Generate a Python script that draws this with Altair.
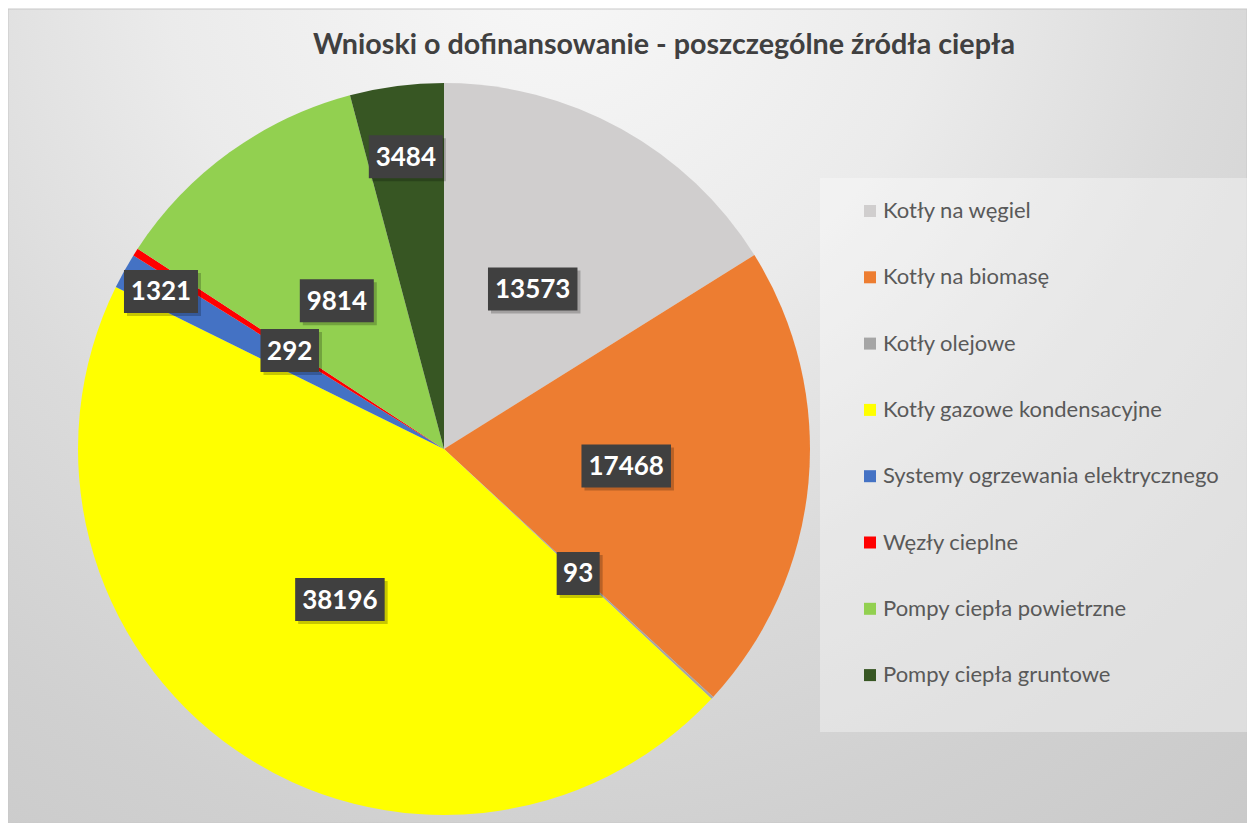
import altair as alt
import pandas as pd
import numpy as np

# ---- data ----
categories = [
    "Kotły na węgiel",
    "Kotły na biomasę",
    "Kotły olejowe",
    "Kotły gazowe kondensacyjne",
    "Systemy ogrzewania elektrycznego",
    "Węzły cieplne",
    "Pompy ciepła powietrzne",
    "Pompy ciepła gruntowe",
]
values = [13573, 17468, 93, 38196, 1321, 292, 9814, 3484]
colors = ["#d0cece", "#ed7d31", "#a5a5a5", "#ffff00", "#4472c4", "#ff0000", "#92d050", "#375623"]
title_text = "Wnioski o dofinansowanie - poszczególne źródła ciepła"

# ---- layout (styles / positions, not data) ----
W, H = 1239, 815
CX, CY, R = 436, 441, 366
label_radius = {1321: 0.885, 3484: 0.805}  # Excel "best fit" moved these
DIGIT_W, BOX_PAD, BOX_H = 15.5, 12, 43

df = pd.DataFrame({"category": categories, "value": values, "idx": range(len(values))})
total = df["value"].sum()
cum = df["value"].cumsum()
mid = (cum - df["value"] / 2) / total * 2 * np.pi
rf = df["value"].map(lambda v: label_radius.get(v, 0.5))
df["lx"] = CX + R * rf * np.sin(mid)
df["ly"] = CY - R * rf * np.cos(mid)
half_w = (df["value"].astype(str).str.len() * DIGIT_W + BOX_PAD) / 2
df["bx1"] = df["lx"] - half_w
df["bx2"] = df["lx"] + half_w
df["by1"] = df["ly"] - BOX_H / 2
df["by2"] = df["ly"] + BOX_H / 2
df["sx1"] = df["bx1"] + 3
df["sx2"] = df["bx2"] + 3
df["sy1"] = df["by1"] + 3
df["sy2"] = df["by2"] + 3
df["label"] = df["value"].astype(str)

one = pd.DataFrame({"one": [1]})

bg = alt.Chart(one).mark_rect(
    fill={
        "gradient": "radial",
        "x1": 0.44, "y1": 0.12, "r1": 0,
        "x2": 0.44, "y2": 0.12, "r2": 1.05,
        "stops": [
            {"offset": 0, "color": "#f8f8f8"},
            {"offset": 0.3, "color": "#ebebeb"},
            {"offset": 0.5, "color": "#dbdbdb"},
            {"offset": 0.7, "color": "#d0d0d0"},
            {"offset": 1, "color": "#c4c4c4"},
        ],
    },
    stroke="#c8c8c8",
    strokeWidth=1,
).encode(x=alt.value(0), x2=alt.value(W), y=alt.value(1), y2=alt.value(H))

legend_panel = alt.Chart(one).mark_rect(fill="#ffffff", fillOpacity=0.35).encode(
    x=alt.value(812), x2=alt.value(W), y=alt.value(170), y2=alt.value(724)
)

shadows = [
    alt.Chart(one).mark_arc(outerRadius=R + k, fill="#000000", opacity=0.035).encode(
        theta=alt.Theta("one:Q"), x=alt.value(CX - 2), y=alt.value(CY + 4)
    )
    for k in (2, 5, 8, 11)
]

pie = alt.Chart(df).mark_arc(outerRadius=R).encode(
    theta=alt.Theta("value:Q", stack=True),
    order=alt.Order("idx:Q", sort="ascending"),
    color=alt.Color(
        "category:N",
        sort=categories,
        scale=alt.Scale(domain=categories, range=colors),
        legend=alt.Legend(
            orient="none",
            legendX=851,
            legendY=192,
            title=None,
            symbolType="square",
            symbolSize=144,
            symbolStrokeWidth=0,
            labelFont="Lato",
            labelFontSize=22,
            labelColor="#595959",
            labelOffset=2,
            labelLimit=500,
            rowPadding=44.3,
            padding=0,
        ),
    ),
    x=alt.value(CX),
    y=alt.value(CY),
)

box_shadow = alt.Chart(df).mark_rect(color="#000000", opacity=0.22).encode(
    x=alt.X("sx1:Q", scale=None, axis=None),
    x2="sx2:Q",
    y=alt.Y("sy1:Q", scale=None, axis=None),
    y2="sy2:Q",
)
boxes = alt.Chart(df).mark_rect(color="#404040").encode(
    x=alt.X("bx1:Q", scale=None, axis=None),
    x2="bx2:Q",
    y=alt.Y("by1:Q", scale=None, axis=None),
    y2="by2:Q",
)
texts = alt.Chart(df).mark_text(
    font="Lato", fontSize=26, fontWeight="bold", color="#ffffff", align="center", baseline="middle", dy=1
).encode(
    x=alt.X("lx:Q", scale=None, axis=None),
    y=alt.Y("ly:Q", scale=None, axis=None),
    text="label:N",
)

title = alt.Chart(pd.DataFrame({"t": [title_text]})).mark_text(
    font="Lato", fontSize=28.7, fontWeight="bold", color="#404040", align="center", baseline="middle"
).encode(x=alt.value(656), y=alt.value(37), text="t:N")

chart = alt.layer(bg, legend_panel, *shadows, pie, box_shadow, boxes, texts, title).properties(
    width=W, height=H, padding=0, autosize=alt.AutoSizeParams(type="none")
).configure_view(strokeWidth=0)

chart.save("out.html", embed_options={"renderer": "svg", "actions": False})
